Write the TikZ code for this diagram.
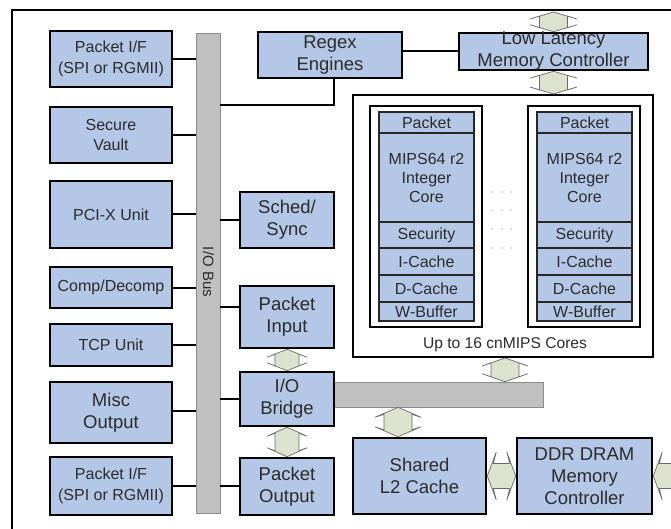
\documentclass[tikz,border=0pt]{standalone}
\usepackage{fontspec}
\setmainfont{Liberation Sans}
\usetikzlibrary{calc}
\definecolor{boxblue}{HTML}{B4C7E7}
\definecolor{arrowfill}{HTML}{DDE2CE}
\definecolor{arrowline}{HTML}{6A6A6A}
\definecolor{busgray}{HTML}{C0C0C0}
\definecolor{busline}{HTML}{8C8C8C}
\definecolor{txtgray}{HTML}{2B2B2B}
\tikzset{
  box/.style={draw=black, line width=2.5pt, fill=boxblue, inner sep=0pt, align=center, text=txtgray},
  smalltxt/.style={font=\fontsize{16}{20.5}\selectfont},
  bigtxt/.style={font=\fontsize{18.5}{22}\selectfont},
  corerow/.style={draw=black!85, line width=1.4pt, fill=boxblue, inner sep=0pt, align=center, text=txtgray, font=\fontsize{16}{19}\selectfont},
  coreouter/.style={draw=black, line width=2.8pt, fill=white, inner sep=0pt},
  link/.style={line width=2pt, black},
  blockarrow/.style={fill=arrowfill, draw=arrowline, line width=0.7pt, line join=miter},
  graybar/.style={draw=busline, line width=0.6pt, fill=busgray, inner sep=0pt},
}
% \blk{style}{name}{x1}{y1}{x2}{y2}{text}
\newcommand\blk[7]{\node[#1,minimum width={(#5)-(#3)},minimum height={(#6)-(#4)}] (#2) at ({((#3)+(#5))/2},{((#4)+(#6))/2}) {#7};}
% vertical double block arrow: top point, bottom point, half shaft, half head, head length
\newcommand\vdarrow[5]{\filldraw[blockarrow] let \p1=(#1), \p2=(#2) in
  (\x1,\y1) -- (\x1+#4pt,\y1-#5pt) -- (\x1+#3pt,\y1-#5pt+3pt) -- (\x1+#3pt,\y2+#5pt-3pt) -- (\x1+#4pt,\y2+#5pt)
  -- (\x1,\y2) -- (\x1-#4pt,\y2+#5pt) -- (\x1-#3pt,\y2+#5pt-3pt) -- (\x1-#3pt,\y1-#5pt+3pt) -- (\x1-#4pt,\y1-#5pt) -- cycle;}
% horizontal double block arrow: left point, right point, half shaft, half head, head length
\newcommand\hdarrow[5]{\filldraw[blockarrow] let \p1=(#1), \p2=(#2) in
  (\x1,\y1) -- (\x1+#5pt,\y1+#4pt) -- (\x1+#5pt-3pt,\y1+#3pt) -- (\x2-#5pt+3pt,\y1+#3pt) -- (\x2-#5pt,\y1+#4pt)
  -- (\x2,\y1) -- (\x2-#5pt,\y1-#4pt) -- (\x2-#5pt+3pt,\y1-#3pt) -- (\x1+#5pt-3pt,\y1-#3pt) -- (\x1+#5pt,\y1-#4pt) -- cycle;}
% single left-pointing block arrow: tip point, tail point
\newcommand\hlarrow[5]{\filldraw[blockarrow] let \p1=(#1), \p2=(#2) in
  (\x1,\y1) -- (\x1+#5pt,\y1+#4pt) -- (\x1+#5pt-3pt,\y1+#3pt) -- (\x2,\y1+#3pt) -- (\x2,\y1-#3pt)
  -- (\x1+#5pt-3pt,\y1-#3pt) -- (\x1+#5pt,\y1-#4pt) -- cycle;}
\begin{document}
\begin{tikzpicture}[x=1pt,y=-1pt]
\useasboundingbox (0,0) rectangle (671,529);
\clip (0,0) rectangle (671,529);
% outer frame
\draw[line width=2pt] (12,10) rectangle (700,560);
% I/O bus
\blk{graybar}{bus}{196}{33}{220}{513}{}
\node[rotate=-90, text=txtgray, font=\fontsize{15}{18}\selectfont, inner sep=0pt] (bustxt) at (208.5,272) {I/O Bus};
% horizontal bar
\blk{graybar}{bar}{330}{382}{543}{407}{}
% left column
\blk{box,smalltxt}{pif1}{50}{31}{172}{87}{Packet I/F\\(SPI or RGMII)}
\blk{box,smalltxt}{sv}{50}{107}{172}{163}{Secure\\Vault}
\blk{box,smalltxt}{pci}{50}{181}{172}{248}{PCI-X Unit}
\blk{box,smalltxt}{comp}{50}{267}{172}{308}{Comp/Decomp}
\blk{box,smalltxt}{tcp}{50}{324}{172}{366}{TCP Unit}
\blk{box,bigtxt}{misc}{50}{382}{172}{443}{Misc\\Output}
\blk{box,smalltxt}{pif2}{50}{457}{172}{515}{Packet I/F\\(SPI or RGMII)}
% middle column
\blk{box,bigtxt}{sched}{240}{192}{334}{248}{Sched/\\Sync}
\blk{box,bigtxt}{pin}{240}{286}{334}{348}{Packet\\Input}
\blk{box,bigtxt}{iob}{240}{372}{334}{426}{I/O\\Bridge}
\blk{box,bigtxt}{pout}{240}{458}{334}{515}{Packet\\Output}
% top
\blk{box,bigtxt}{regex}{258}{32}{402}{78}{Regex\\Engines}
\blk{box}{llmc}{459}{33}{648}{70}{}
\node[bigtxt, text=txtgray, align=center, inner sep=0pt] (llmctxt) at (553.5,51) {Low Latency\\Memory Controller};
% bottom right
\blk{box,bigtxt}{l2}{353}{438}{486}{514}{Shared\\L2 Cache}
\blk{box,bigtxt}{ddr}{517}{438}{652}{514}{DDR DRAM\\Memory\\Controller}
% cores container
\blk{draw=black, line width=2pt, fill=white, inner sep=0pt}{cores}{353}{95}{653}{357}{}
\node[text=txtgray, font=\fontsize{15.6}{18}\selectfont, inner sep=0pt] (corestxt) at (505,345) {Up to 16 cnMIPS Cores};
\foreach \i/\dx in {a/0,b/158}{
  \blk{coreouter}{core\i}{370+\dx}{106}{482+\dx}{327}{}
  \blk{corerow}{pk\i}{379+\dx}{112}{474+\dx}{133}{Packet}
  \blk{corerow}{mips\i}{379+\dx}{133}{474+\dx}{222}{MIPS64 r2\\Integer\\Core}
  \blk{corerow}{sec\i}{379+\dx}{222}{474+\dx}{248}{Security}
  \blk{corerow}{ic\i}{379+\dx}{248}{474+\dx}{275}{I-Cache}
  \blk{corerow}{dc\i}{379+\dx}{275}{474+\dx}{302}{D-Cache}
  \blk{corerow}{wb\i}{379+\dx}{302}{474+\dx}{321}{W-Buffer}
}
\foreach \yy in {192,210,229,248}{
  \foreach \xx in {492,502,511}{
    \fill[black!55] (\xx,\yy) circle (0.7pt);
  }
}
% connectors to bus
\foreach \n in {pif1,sv,pci,comp,tcp,pif2}{
  \draw[link] (\n.east) -- (\n.east -| bus.west);
}
\draw[link] ($(misc.east)+(0,-2)$) -- ($(misc.east -| bus.west)+(0,-2)$);
\draw[link] (sched.west -| bus.east) -- (sched.west);
\draw[link] ($(pin.west -| bus.east)+(0,-10)$) -- ($(pin.west)+(0,-10)$);
\draw[link] (iob.west -| bus.east) -- (iob.west);
\draw[link] ($(pout.west -| bus.east)+(0,-1)$) -- ($(pout.west)+(0,-1)$);
\coordinate (rgbend) at (334,105);
\draw[link] (regex.south -| rgbend) -- (rgbend) -- (rgbend -| bus.east);
\draw[link] (regex.east |- llmc.west) -- (llmc.west);
% block arrows
\coordinate (frametop) at (553.5,12);
\coordinate (a3) at (505,0);
\coordinate (a4) at (398,0);
\coordinate (ddrfeed) at (700,476);
\vdarrow{frametop}{llmc.north}{14}{23.5}{7}
\vdarrow{llmc.south}{llmc.south |- cores.north}{14}{23.5}{7}
\vdarrow{a3 |- cores.south}{a3 |- bar.north}{14}{23}{8}
\vdarrow{a4 |- bar.south}{a4 |- l2.north}{14}{23}{10}
\vdarrow{pin.south}{iob.north}{12}{20}{8}
\vdarrow{iob.south}{pout.north}{12}{20}{9}
\hdarrow{l2.east}{ddr.west}{12.5}{24}{9}
\hlarrow{ddr.east}{ddrfeed}{12.5}{24}{9}
\end{tikzpicture}
\end{document}
